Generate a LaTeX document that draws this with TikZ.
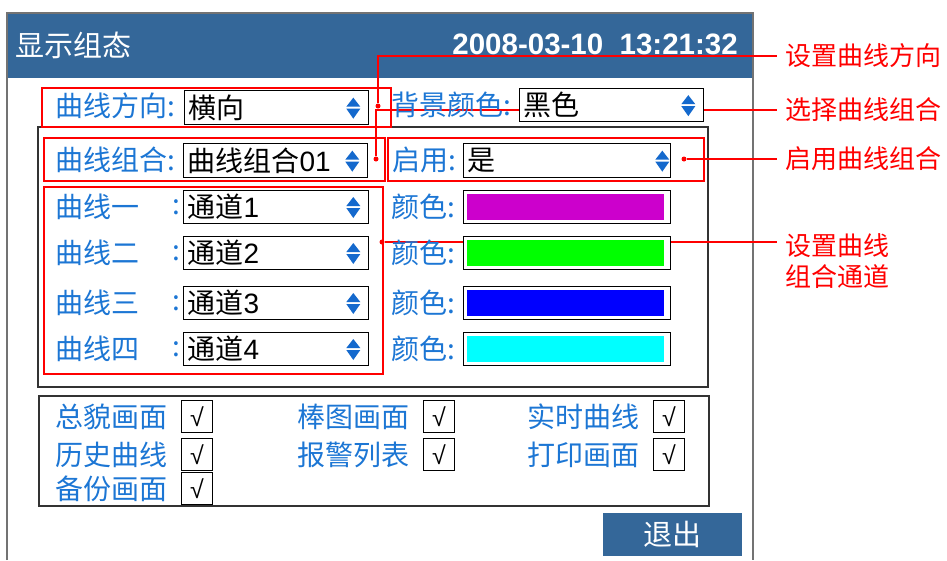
\documentclass[tikz,border=0pt]{standalone}
\usepackage{fontspec}
\setmainfont{Liberation Sans}
\newfontfamily\cjk{Noto Sans CJK SC}
\usetikzlibrary{positioning}
\definecolor{hmiblue}{RGB}{52,103,153}
\definecolor{hmilabel}{RGB}{28,118,212}
\definecolor{hmispin}{RGB}{20,105,205}
\definecolor{hmigrey}{RGB}{115,115,115}
\definecolor{curvemag}{RGB}{204,0,204}
\definecolor{curvegreen}{RGB}{0,255,0}
\definecolor{curveblue}{RGB}{0,0,255}
\definecolor{curvecyan}{RGB}{0,255,255}
\tikzstyle{hmitext} = [anchor=west, inner sep=0, text=hmilabel, font=\cjk\fontsize{28}{32}\selectfont]
\tikzstyle{dropbox} = [anchor=north west, draw=black, fill=white, line width=1.3, minimum height=33, text width=176, inner xsep=4, inner ysep=0, align=left, font=\cjk\fontsize{28}{32}\selectfont]
\tikzstyle{colbox} = [anchor=west, draw=black, fill=white, line width=1.3, minimum width=207, minimum height=33, inner sep=0]
\tikzstyle{chkbox} = [anchor=north west, draw=black, line width=1.2, minimum width=31, minimum height=32, inner sep=0, font=\rmfamily\fontsize{25}{28}\selectfont]
\tikzstyle{panel} = [draw=black!80, line width=1.2]
\tikzstyle{redbox} = [draw=red, line width=1.8]
\tikzstyle{reddot} = [circle, fill=red, inner sep=0, minimum size=5]
\tikzstyle{callout} = [red, line width=1.2]
\tikzstyle{calltext} = [anchor=west, inner xsep=8, inner ysep=0, text=red, font=\cjk\fontsize{26}{31}\selectfont]
\tikzset{spinner/.pic={
  \fill[hmispin] (-7,-1) -- (7,-1) -- (0,-10) -- cycle;
  \fill[hmispin] (-7,1) -- (7,1) -- (0,11) -- cycle;
}}

\begin{document}
\begin{tikzpicture}[x=1pt, y=-1pt]
\useasboundingbox (0,0) rectangle (947,560);
\fill[hmiblue] (7,13) rectangle (753,78);
\draw[hmigrey, line width=2] (7,560) -- (7,13) -- (753,13) -- (753,560);
\node[anchor=west, inner sep=0, text=white, font=\cjk\fontsize{29}{34}\selectfont] (title) at (15,45) {显示组态};
\node[anchor=east, inner sep=0, text=white, font=\bfseries\fontsize{29.5}{34}\selectfont] (clock) at (738,44) {2008-03-10\ \ 13:21:32};

\draw[panel] (38,127) rectangle (708,387);
\draw[panel] (39,396) rectangle (709,506);

\draw[redbox] (42,88) rectangle (391,127);
\draw[redbox] (44,138) rectangle (385,181);
\draw[redbox] (388,138) rectangle (704,181);
\draw[redbox] (44,187) rectangle (383,374);

\node[calltext] (tdir) at (777,56) {设置曲线方向};
\node[calltext] (tgrp) at (777,110) {选择曲线组合};
\node[calltext] (ten) at (777,159) {启用曲线组合};
\node[calltext, anchor=north west, align=left] (tch) at (777,233) {设置曲线\\组合通道};

\node[reddot] (pdir) at (378,106) {};
\node[reddot] (pgrp) at (376,159) {};
\node[reddot] (pen) at (684,159) {};
\node[reddot] (pch) at (382,242) {};

\draw[callout] (pdir) |- (tdir);
\draw[callout] (pgrp) |- (tgrp);
\draw[callout] (pen) -- (pen -| ten.west);
\draw[callout] (pch) -- (pch -| tch.west);

\node[hmitext] (dirlbl) at (55,106) {曲线方向:};
\node[dropbox, minimum height=34] (dirbox) at (184,90) {横向};
\pic at ([xshift=-16]dirbox.east) {spinner};
\node[hmitext] (bglbl) at (391,105) {背景颜色:};
\node[dropbox] (bgbox) at (519,88) {黑色};
\pic at ([xshift=-16]bgbox.east) {spinner};

\node[hmitext] (grplbl) at (55,160) {曲线组合:};
\node[dropbox, minimum height=34] (grpbox) at (183,143) {曲线组合{\rmfamily 01}};
\pic at ([xshift=-16]grpbox.east) {spinner};
\node[hmitext] (enlbl) at (392,160) {启用:};
\node[dropbox, minimum height=34, text width=199] (enbox) at (463,143) {是};
\pic at ([xshift=-9]enbox.east) {spinner};

\foreach \n/\name/\yc/\col in {1/一/207/curvemag, 2/二/253/curvegreen, 3/三/303/curveblue, 4/四/349/curvecyan}{
  \node[hmitext] (cname\n) at (55,\yc) {曲线\name};
  \node[hmitext] (ccolon\n) at (172,\yc) {:};
  \node[dropbox, anchor=west, text width=177] (cbox\n) at (183,\yc) {通道{\rmfamily\n}};
  \pic at ([xshift=-16]cbox\n.east) {spinner};
  \node[hmitext] (clbl\n) at (391,\yc) {颜色:};
  \node[colbox] (cbar\n) at (463,\yc) {};
  \fill[\col] ([shift={(4,4)}]cbar\n.north west) rectangle ([shift={(-7,-4)}]cbar\n.south east);
}

\foreach \txt/\xb/\yt [count=\i] in {总貌画面/181/400, 棒图画面/423/400, 实时曲线/653/400, 历史曲线/181/438, 报警列表/423/438, 打印画面/653/438, 备份画面/181/472}{
  \node[chkbox] (chk\i) at (\xb,\yt) {√};
  \node[hmitext, anchor=east, left=13pt of chk\i] (chklbl\i) {\txt};
}

\node[anchor=north west, fill=hmiblue, minimum width=139, minimum height=43, inner sep=0, text=white, font=\cjk\fontsize{29}{34}\selectfont] (quit) at (603,513) {退出};
\end{tikzpicture}
\end{document}
